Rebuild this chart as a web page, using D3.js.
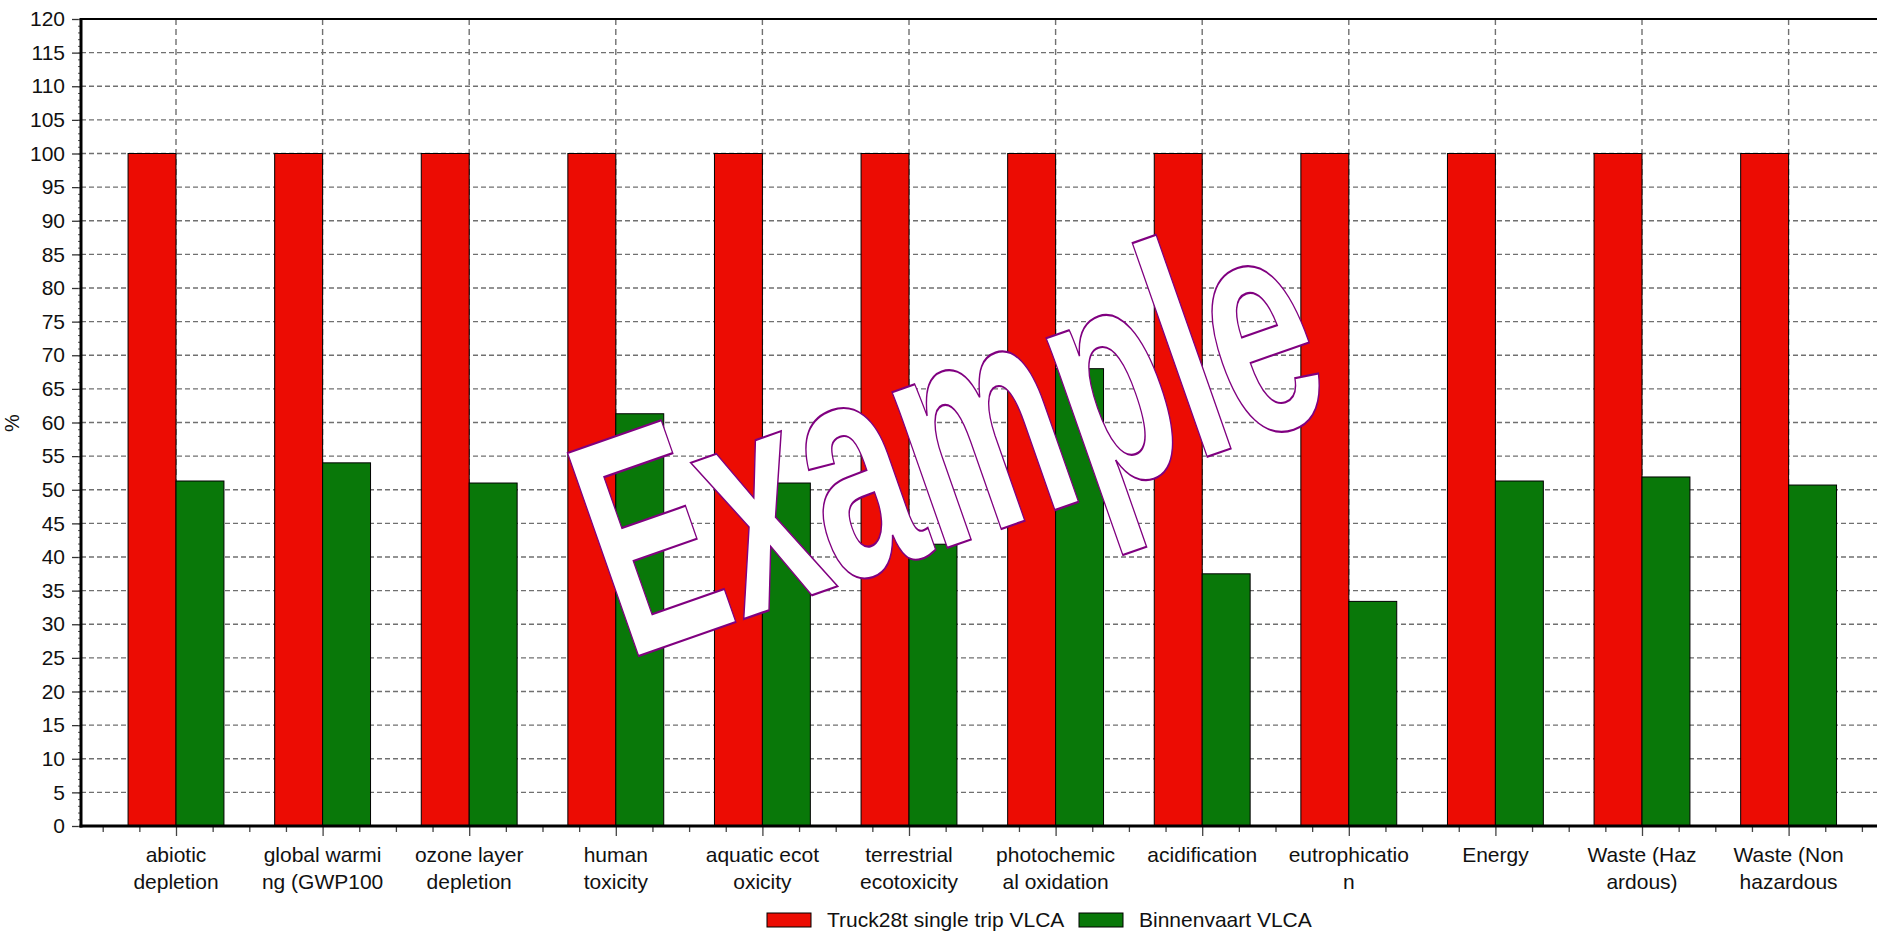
<!DOCTYPE html>
<html>
<head>
<meta charset="utf-8">
<title>VLCA comparison</title>
<script src="https://d3js.org/d3.v7.min.js"></script>
<style>
  body { margin: 0; background: #fff; }
  svg { display: block; font-family: Arial, "Liberation Sans", sans-serif; }
</style>
</head>
<body>
<svg width="1877" height="931"></svg>
<script>
// categories, two lines each as in the original (wrapped by the charting tool)
var categories = [
  ["abiotic", "depletion"],
  ["global warmi", "ng (GWP100"],
  ["ozone layer", "depletion"],
  ["human", "toxicity"],
  ["aquatic ecot", "oxicity"],
  ["terrestrial", "ecotoxicity"],
  ["photochemic", "al oxidation"],
  ["acidification", ""],
  ["eutrophicatio", "n"],
  ["Energy", ""],
  ["Waste (Haz", "ardous)"],
  ["Waste (Non", "hazardous"]
];
var seriesNames = ["Truck28t single trip VLCA", "Binnenvaart VLCA"];
var truck = [100, 100, 100, 100, 100, 100, 100, 100, 100, 100, 100, 100];
var binnenvaart = [51.3, 54.0, 51.0, 61.3, 51.0, 41.9, 68.0, 37.5, 33.4, 51.3, 51.9, 50.7];
var yTicks = d3.range(0, 121, 5);
var yLabel = "%";
var watermark = "Example";

var svg = d3.select("svg");
var W = 1877;
var plotLeft = 81, plotTop = 19, plotBottom = 826;
var red = "#ec0c03", green = "#097809";

var y = d3.scaleLinear().domain([0, 120]).range([plotBottom, plotTop]);
// category centres (index -> pixel)
var x = d3.scaleLinear().domain([0, 11]).range([176, 176 + 11 * 146.6]);
var step = x(1) - x(0);
var barW = step * 0.327;

// grid
var grid = svg.append("g");
grid.selectAll("line.h").data(yTicks.filter(function(d) { return d > 0 && d < 120; }))
  .enter().append("line")
  .attr("x1", plotLeft).attr("x2", W)
  .attr("y1", function(d) { return y(d); }).attr("y2", function(d) { return y(d); })
  .attr("stroke", "#707070").attr("stroke-width", 1.4).attr("stroke-dasharray", "5,3");
grid.selectAll("line.v").data(d3.range(categories.length))
  .enter().append("line")
  .attr("x1", function(d) { return x(d); }).attr("x2", function(d) { return x(d); })
  .attr("y1", plotTop).attr("y2", plotBottom)
  .attr("stroke", "#707070").attr("stroke-width", 1.4).attr("stroke-dasharray", "6,4");

// bars
var bars = svg.append("g");
bars.selectAll("rect.truck").data(truck).enter().append("rect")
  .attr("x", function(d, i) { return x(i) - barW; })
  .attr("y", function(d) { return y(d); })
  .attr("width", barW)
  .attr("height", function(d) { return y(0) - y(d); })
  .attr("fill", red).attr("stroke", "#000").attr("stroke-width", 1);
bars.selectAll("rect.bin").data(binnenvaart).enter().append("rect")
  .attr("x", function(d, i) { return x(i); })
  .attr("y", function(d) { return y(d); })
  .attr("width", barW)
  .attr("height", function(d) { return y(0) - y(d); })
  .attr("fill", green).attr("stroke", "#000").attr("stroke-width", 1);

// y axis
var yAxis = svg.append("g").attr("transform", "translate(" + plotLeft + ",0)")
  .call(d3.axisLeft(y).tickValues(yTicks).tickSize(9).tickPadding(7).tickFormat(d3.format("d")));
yAxis.select(".domain").remove();
yAxis.selectAll("text").attr("font-size", 21).attr("fill", "#111")
  .attr("font-family", "Arial, 'Liberation Sans', sans-serif");
yAxis.selectAll("line").attr("stroke", "#333").attr("stroke-width", 1.3);
var yMinor = svg.append("g").attr("transform", "translate(" + plotLeft + ",0)")
  .call(d3.axisLeft(y).tickValues(d3.range(0, 121, 1)).tickSize(3).tickFormat(""));
yMinor.select(".domain").remove();
yMinor.selectAll("line").attr("stroke", "#555");

// x axis ticks (quarter steps, longer at category centres)
var xTickVals = d3.range(-0.5, 11.8, 0.25);
var xAxis = svg.append("g").attr("transform", "translate(0," + plotBottom + ")")
  .call(d3.axisBottom(x).tickValues(xTickVals).tickSize(5).tickFormat(""));
xAxis.select(".domain").remove();
xAxis.selectAll(".tick line")
  .attr("y2", function(d) { return Number.isInteger(d) ? 10 : 6; })
  .attr("stroke", "#444").attr("stroke-width", 1.3);

// frame lines
svg.append("line").attr("x1", plotLeft).attr("x2", W).attr("y1", plotTop).attr("y2", plotTop)
  .attr("stroke", "#000").attr("stroke-width", 2);
svg.append("line").attr("x1", plotLeft).attr("x2", plotLeft).attr("y1", plotTop - 1).attr("y2", plotBottom + 1.5)
  .attr("stroke", "#000").attr("stroke-width", 3);
svg.append("line").attr("x1", plotLeft - 1.5).attr("x2", W).attr("y1", plotBottom).attr("y2", plotBottom)
  .attr("stroke", "#000").attr("stroke-width", 3);

// category labels
var labels = svg.append("g").attr("font-size", 21).attr("fill", "#111").attr("text-anchor", "middle");
categories.forEach(function(c, i) {
  labels.append("text").attr("x", x(i)).attr("y", 862).text(c[0]);
  if (c[1]) labels.append("text").attr("x", x(i)).attr("y", 889).text(c[1]);
});

// y title
svg.append("text").attr("transform", "translate(19,423) rotate(-90)")
  .attr("text-anchor", "middle").attr("font-size", 20).attr("fill", "#111").text(yLabel);

// legend
var legend = svg.append("g").attr("font-size", 21).attr("fill", "#111");
var legendX = [767, 1079];
seriesNames.forEach(function(n, i) {
  legend.append("rect").attr("x", legendX[i]).attr("y", 913).attr("width", 44).attr("height", 14)
    .attr("fill", i === 0 ? red : green).attr("stroke", "#000").attr("stroke-width", 1);
  legend.append("text").attr("x", legendX[i] + 60).attr("y", 927).text(n);
});

// watermark
svg.append("text")
  .attr("transform", "translate(627,660) rotate(-19.3) scale(1,1.68)")
  .attr("font-size", 186).attr("font-weight", "bold")
  .attr("font-family", "Arial, 'Liberation Sans', sans-serif")
  .attr("textLength", 755).attr("lengthAdjust", "spacingAndGlyphs")
  .attr("fill", "#fff").attr("stroke", "#800080").attr("stroke-width", 1.3)
  .text(watermark);
</script>
</body>
</html>
